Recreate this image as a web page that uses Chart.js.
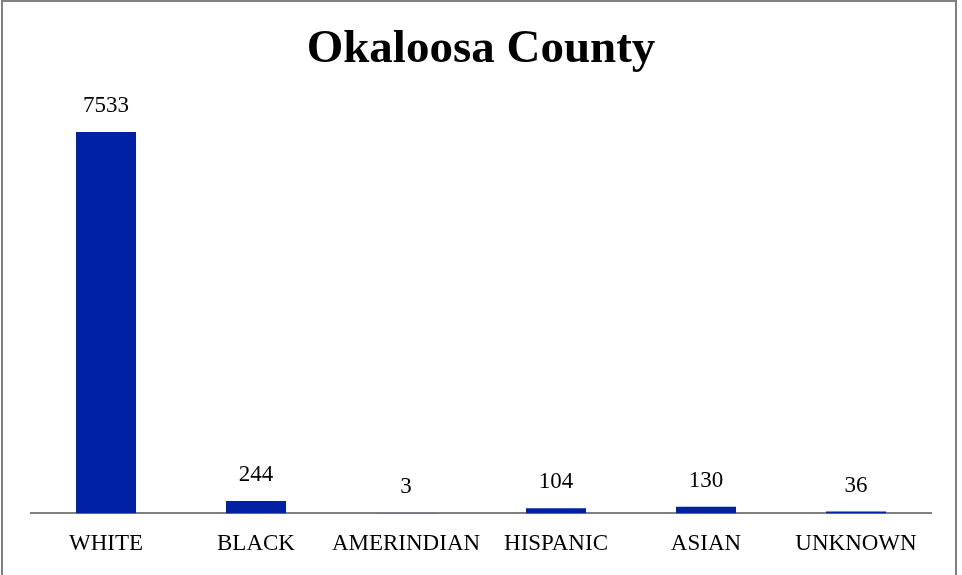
<!DOCTYPE html>
<html><head><meta charset="utf-8">
<script src="https://cdn.jsdelivr.net/npm/chart.js@4/dist/chart.umd.min.js"></script>
<style>html,body{margin:0;padding:0;background:#fff;}#wrap{width:962px;height:575px;position:relative;}</style>
</head><body><div id="wrap"><canvas id="c" width="962" height="575"></canvas></div>
<script>
const categories = ["WHITE","BLACK","AMERINDIAN","HISPANIC","ASIAN","UNKNOWN"];
const values = [7533,244,3,104,130,36];
const chartTitle = "Okaloosa County";

const FONT = "'Liberation Serif','Times New Roman',serif";

const frame = {
  id:'frame',
  beforeDraw(chart){
    const c = chart.ctx;
    c.save();
    c.fillStyle='#fff'; c.fillRect(0,0,chart.width,chart.height);
    c.strokeStyle='#808080'; c.lineWidth=2;
    c.strokeRect(2,1,954,590);
    c.restore();
  }
};
const labels = {
  id:'labels',
  afterDatasetsDraw(chart){
    const c = chart.ctx;
    const meta = chart.getDatasetMeta(0);
    c.save();
    c.fillStyle='#000';
    c.font = "23px " + FONT;
    c.textAlign='center'; c.textBaseline='middle';
    meta.data.forEach((bar,i)=>{
      c.fillText(String(values[i]), bar.x, bar.y-26);
    });
    c.restore();
  }
};

new Chart(document.getElementById('c'), {
  type:'bar',
  data:{labels:categories, datasets:[{data:values, backgroundColor:'#0021A3', borderWidth:0, categoryPercentage:1, barPercentage:0.4}]},
  options:{
    responsive:false, animation:false,
    layout:{padding:{left:31,right:31,top:22,bottom:0}},
    plugins:{
      legend:{display:false}, tooltip:{enabled:false},
      title:{display:true,text:chartTitle,color:'#000',font:{family:FONT,size:47,weight:'bold'},padding:{top:0,bottom:30}}
    },
    scales:{
      x:{grid:{display:false,drawTicks:false},border:{display:true,color:'#808080',width:2},
         ticks:{color:'#000',font:{family:FONT,size:23},padding:17,maxRotation:0,autoSkip:false}},
      y:{display:false,min:0,max:8000}
    }
  },
  plugins:[frame,labels]
});
</script></body></html>
